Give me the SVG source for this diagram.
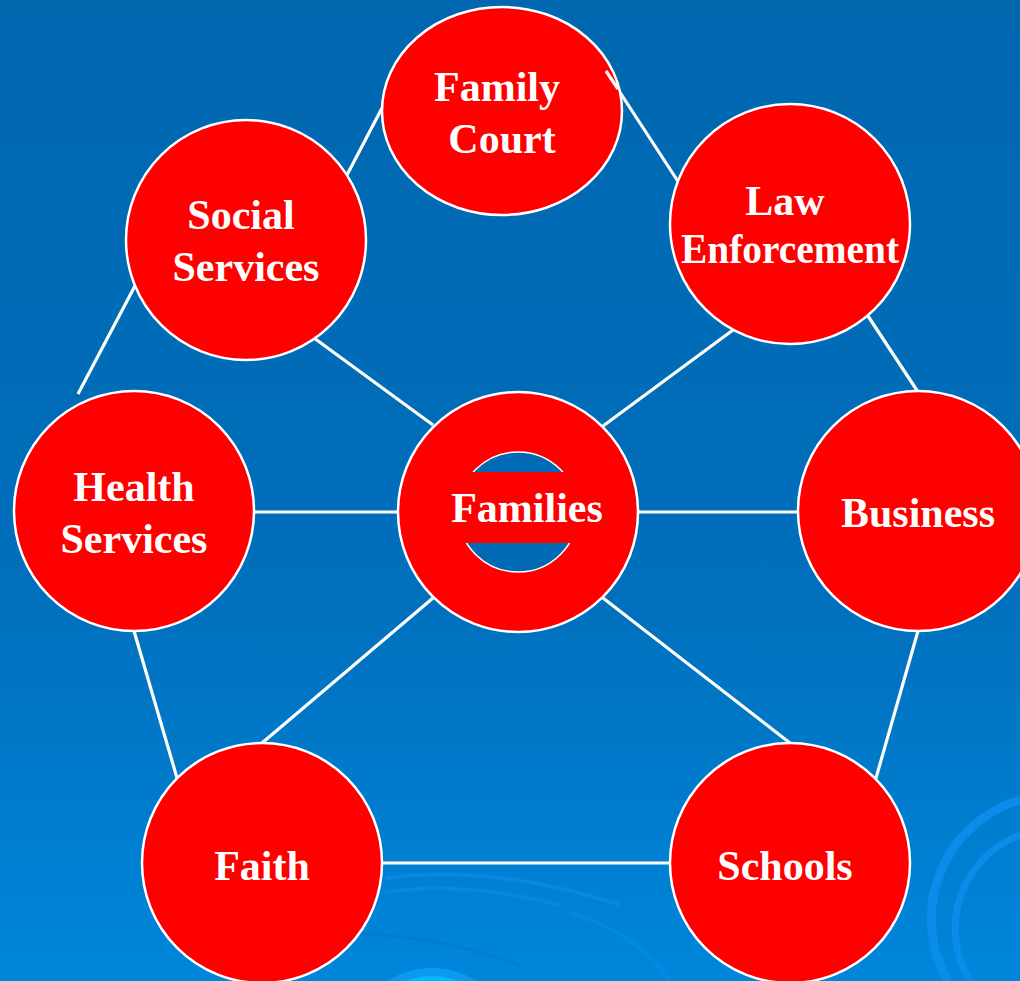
<svg xmlns="http://www.w3.org/2000/svg" width="1020" height="981" viewBox="0 0 1020 981">
  <defs>
    <linearGradient id="bg" x1="0" y1="0" x2="0" y2="1">
      <stop offset="0" stop-color="#0067AF"/>
      <stop offset="0.6" stop-color="#006FBC"/>
      <stop offset="1" stop-color="#0086DB"/>
    </linearGradient>
    <style>
      .node { fill: #FF0000; stroke: #FFFFFF; stroke-width: 2.5; }
      .lbl { font-family: "Liberation Serif", "Times New Roman", serif; font-weight: bold; font-size: 42px; fill: #FFFFFF; text-anchor: middle; }
      .conn line { stroke: #FFFFFF; stroke-width: 3.2; }
      .deco { fill: none; stroke: #0A8CE8; }
    </style>
  </defs>

  <rect width="1020" height="981" fill="url(#bg)"/>

  <g id="decoration">
    <path class="deco" stroke-width="9" d="M 948 981 A 124 124 0 0 1 1020 800"/>
    <path class="deco" stroke-width="7" d="M 970 981 A 100 100 0 0 1 1020 835"/>
    <path class="deco" stroke-width="4" opacity="0.7" d="M 385 878 C 470 868 540 880 620 905"/>
    <path class="deco" stroke-width="4" opacity="0.6" d="M 385 892 C 440 884 500 890 560 905"/>
    <path class="deco" stroke-width="4" opacity="0.5" d="M 570 912 C 620 930 650 950 670 981"/>
    <path fill="none" stroke="#0078C8" stroke-width="3" opacity="0.6" d="M 270 950 C 330 925 420 930 520 965"/>
    <circle cx="432" cy="1052" r="84" fill="#0A9BF0"/>
    <circle cx="432" cy="1052" r="76" fill="#00B8FF"/>
  </g>

  <g id="connectors" class="conn">
    <line x1="347" y1="175" x2="382" y2="108"/>
    <line x1="606" y1="71" x2="681" y2="186"/>
    <line x1="137" y1="282" x2="78" y2="394"/>
    <line x1="314" y1="338" x2="433" y2="425"/>
    <line x1="733" y1="330" x2="603" y2="426"/>
    <line x1="868" y1="316" x2="918" y2="392"/>
    <line x1="254" y1="512" x2="397" y2="512"/>
    <line x1="639" y1="512" x2="798" y2="512"/>
    <line x1="134" y1="631" x2="177" y2="778"/>
    <line x1="433" y1="598" x2="262" y2="743"/>
    <line x1="603" y1="598" x2="790" y2="743"/>
    <line x1="918" y1="631" x2="876" y2="778"/>
    <line x1="382" y1="863" x2="670" y2="863"/>
  </g>

  <g id="family-court">
    <ellipse class="node" cx="502" cy="111" rx="120" ry="104"/>
    <line x1="606" y1="71" x2="618" y2="89" stroke="#FFFFFF" stroke-width="3.2"/>
    <text class="lbl" x="497" y="101">Family</text>
    <text class="lbl" x="502" y="153">Court</text>
  </g>

  <g id="social-services">
    <circle class="node" cx="246" cy="240" r="120"/>
    <text class="lbl" x="241" y="229">Social</text>
    <text class="lbl" x="246" y="281">Services</text>
  </g>

  <g id="law-enforcement">
    <circle class="node" cx="790" cy="224" r="120"/>
    <text class="lbl" x="785" y="215">Law</text>
    <text class="lbl" x="790" y="263" textLength="218" lengthAdjust="spacingAndGlyphs">Enforcement</text>
  </g>

  <g id="health-services">
    <circle class="node" cx="134" cy="511" r="120"/>
    <text class="lbl" x="134" y="501">Health</text>
    <text class="lbl" x="134" y="553">Services</text>
  </g>

  <g id="families">
    <circle class="node" cx="518" cy="512" r="120"/>
    <circle cx="518" cy="512" r="60" fill="#006BB4" stroke="#FFFFFF" stroke-width="1.5"/>
    <rect x="455" y="472" width="126" height="71" fill="#FF0000"/>
    <text class="lbl" x="527" y="522">Families</text>
  </g>

  <g id="business">
    <circle class="node" cx="918" cy="511" r="120"/>
    <text class="lbl" x="918" y="527">Business</text>
  </g>

  <g id="faith">
    <circle class="node" cx="262" cy="863" r="120"/>
    <text class="lbl" x="262" y="880">Faith</text>
  </g>

  <g id="schools">
    <circle class="node" cx="790" cy="863" r="120"/>
    <text class="lbl" x="785" y="880">Schools</text>
  </g>
</svg>
